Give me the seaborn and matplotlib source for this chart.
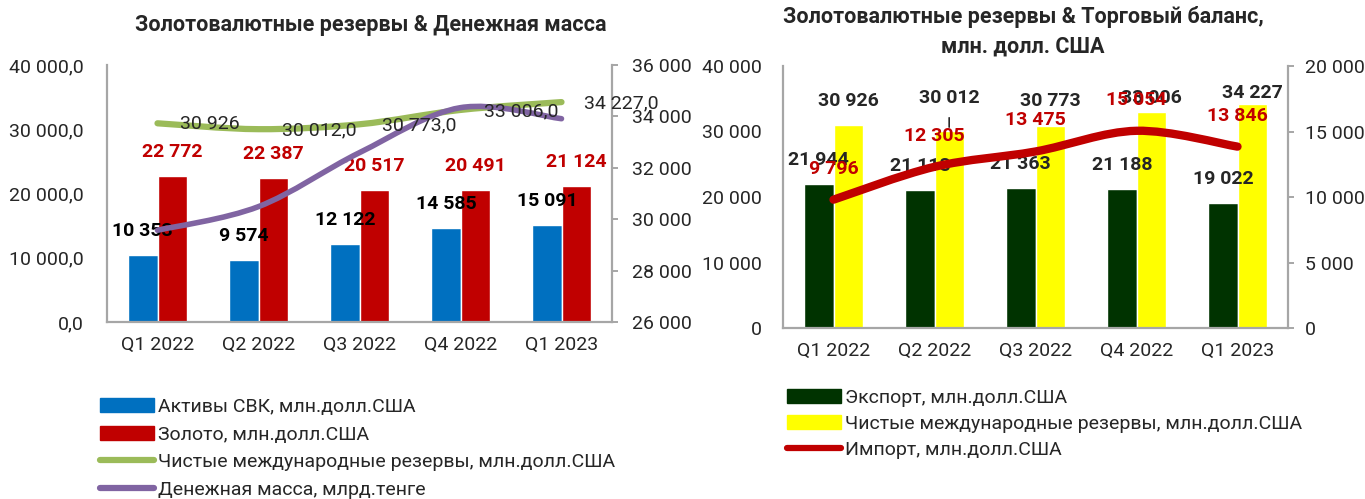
import numpy as np
import pandas as pd
import seaborn as sns
import matplotlib
matplotlib.use("Agg")
import matplotlib.pyplot as plt
from matplotlib.path import Path
from matplotlib.patches import PathPatch, Patch
from matplotlib.lines import Line2D
from matplotlib.ticker import FuncFormatter, MultipleLocator

# данные
quarters = ["Q1 2022", "Q2 2022", "Q3 2022", "Q4 2022", "Q1 2023"]
svk_assets = [10353, 9574, 12122, 14585, 15091]
gold = [22772, 22387, 20517, 20491, 21124]
net_reserves = [30926, 30012, 30773, 33006, 34227]
net_reserves_labels = ["30 926", "30 012,0", "30 773,0", "33 006,0", "34 227,0"]
money_supply = [29570, 30490, 32590, 34340, 33910]
export = [21944, 21118, 21363, 21188, 19022]
imports = [9796, 12305, 13475, 15054, 13846]

title_left = "Золотовалютные резервы & Денежная масса"
title_right = "Золотовалютные резервы & Торговый баланс,\nмлн. долл. США"
lbl_svk = "Активы СВК, млн.долл.США"
lbl_gold = "Золото, млн.долл.США"
lbl_nir = "Чистые международные резервы, млн.долл.США"
lbl_money = "Денежная масса, млрд.тенге"
lbl_export = "Экспорт, млн.долл.США"
lbl_import = "Импорт, млн.долл.США"

BLUE, RED, GREEN, PURPLE = "#0070C0", "#C00000", "#9BBB59", "#8064A2"
DKGREEN, YELLOW = "#003300", "#FFFF00"
GREY = "#A6A6A6"

sns.set_style("white")
plt.rcParams["font.family"] = ["Roboto", "DejaVu Sans"]
FS = 14


def fmt(dec):
    def f(v, pos):
        s = f"{v:,.0f}".replace(",", " ")
        return s + ",0" if dec else s
    return FuncFormatter(f)


def smooth(ax, xs, ys, color, lw):
    # кривая Безье через точки (как сглаживание в Excel)
    pts = np.column_stack([xs, ys]).astype(float)
    n = len(pts)
    verts, codes = [pts[0]], [Path.MOVETO]
    for i in range(n - 1):
        p0 = pts[i - 1] if i > 0 else pts[i]
        p1, p2 = pts[i], pts[i + 1]
        p3 = pts[i + 2] if i + 2 < n else pts[i + 1]
        verts += [p1 + (p2 - p0) / 6, p2 - (p3 - p1) / 6, p2]
        codes += [Path.CURVE4] * 3
    ax.add_patch(PathPatch(Path(verts, codes), fill=False, edgecolor=color,
                           lw=lw, capstyle="round", joinstyle="round", zorder=3))


def style_axes(ax, axr, lpad, rpad):
    for a in (ax, axr):
        for s in a.spines.values():
            s.set_visible(False)
    ax.spines["left"].set_visible(True)
    ax.spines["bottom"].set_visible(True)
    axr.spines["right"].set_visible(True)
    for s in (ax.spines["left"], ax.spines["bottom"], axr.spines["right"]):
        s.set_color(GREY)
        s.set_linewidth(1.6)
    ax.tick_params(axis="y", length=0, pad=lpad, labelsize=FS)
    ax.tick_params(axis="x", length=0, pad=10, labelsize=FS)
    axr.tick_params(axis="y", length=4.5, width=1.4, color=GREY, direction="out",
                    pad=rpad, labelsize=FS)
    ax.set_xlabel("")
    ax.set_ylabel("")
    ax.set_xlim(-0.5, 4.5)


def bar_pair(ax, a, b, na, nb, colors):
    df = pd.DataFrame({"quarter": quarters * 2, "value": a + b,
                       "series": [na] * 5 + [nb] * 5})
    sns.barplot(data=df, x="quarter", y="value", hue="series", palette=colors,
                width=0.58, saturation=1, gap=0, ax=ax, legend=False, zorder=2)


fig = plt.figure(figsize=(13.65, 4.99), dpi=100)

# ---------- левый график ----------
ax1 = fig.add_axes([107 / 1365, 1 - 322 / 499, 505 / 1365, 257 / 499])
bar_pair(ax1, svk_assets, gold, lbl_svk, lbl_gold, [BLUE, RED])
ax1.set_ylim(0, 40000)
ax1.yaxis.set_major_locator(MultipleLocator(10000))
ax1.yaxis.set_major_formatter(fmt(True))
ax1r = ax1.twinx()
ax1r.set_ylim(26000, 36000)
ax1r.yaxis.set_major_locator(MultipleLocator(2000))
ax1r.yaxis.set_major_formatter(fmt(False))
style_axes(ax1, ax1r, 17, 10)

for cont, col in zip(ax1.containers, ["black", RED]):
    for bar in cont:
        v = bar.get_height()
        ax1.annotate(f"{v:,.0f}".replace(",", " "),
                     (bar.get_x() + bar.get_width() / 2, v),
                     xytext=(0, 24), textcoords="offset pixels", ha="center",
                     va="center", fontsize=FS, fontweight="bold", color=col, zorder=5)

xs = np.arange(5)
smooth(ax1, xs, net_reserves, GREEN, 4.5)
smooth(ax1r, xs, money_supply, PURPLE, 4)
for x, v, t in zip(xs, net_reserves, net_reserves_labels):
    ax1r.annotate(t, (x, 26000 + (v / 40000) * 10000), xytext=(23, -1),
                  textcoords="offset pixels", ha="left", va="center", fontsize=FS,
                  zorder=6)
fig.text(371 / 1365, 1 - 25 / 499, title_left, ha="center", va="center",
         fontsize=15.5, fontweight="bold")

h1 = [Patch(color=BLUE), Patch(color=RED),
      Line2D([], [], color=GREEN, lw=4.5, solid_capstyle="round"),
      Line2D([], [], color=PURPLE, lw=4.5, solid_capstyle="round")]
fig.legend(h1, [lbl_svk, lbl_gold, lbl_nir, lbl_money], loc="upper left",
           bbox_to_anchor=(100 / 1365, 1 - 398 / 499), frameon=False, fontsize=FS,
           handlelength=2.8, handletextpad=0.2, labelspacing=0.49,
           borderpad=0, borderaxespad=0)

# ---------- правый график ----------
ax2 = fig.add_axes([783 / 1365, 1 - 328 / 499, 505 / 1365, 262 / 499])
bar_pair(ax2, export, net_reserves, lbl_export, lbl_nir, [DKGREEN, YELLOW])
ax2.set_ylim(0, 40000)
ax2.yaxis.set_major_locator(MultipleLocator(10000))
ax2.yaxis.set_major_formatter(fmt(False))
ax2r = ax2.twinx()
ax2r.set_ylim(0, 20000)
ax2r.yaxis.set_major_locator(MultipleLocator(5000))
ax2r.yaxis.set_major_formatter(fmt(False))
style_axes(ax2, ax2r, 15, 8)

yellow_dy = [24, 33, 25, 14, 11]
for i, bar in enumerate(ax2.containers[0]):
    v = bar.get_height()
    ax2.annotate(f"{v:,.0f}".replace(",", " "),
                 (bar.get_x() + bar.get_width() / 2, v),
                 xytext=(0, 24), textcoords="offset pixels", ha="center",
                 va="center", fontsize=FS, fontweight="bold", zorder=5)
for i, bar in enumerate(ax2.containers[1]):
    v = bar.get_height()
    kw = {}
    if i == 1:
        kw = dict(arrowprops=dict(arrowstyle="-", color="black", lw=1,
                                  shrinkA=5, shrinkB=3))
    ax2.annotate(f"{v:,.0f}".replace(",", " "),
                 (bar.get_x() + bar.get_width() / 2, v),
                 xytext=(0, yellow_dy[i]), textcoords="offset pixels", ha="center",
                 va="center", fontsize=FS, fontweight="bold", zorder=5, **kw)

smooth(ax2r, xs, imports, RED, 6)
for x, v in zip(xs, imports):
    ax2r.annotate(f"{v:,.0f}".replace(",", " "), (x, v), xytext=(0, 31),
                  textcoords="offset pixels", ha="center", va="center",
                  fontsize=FS, fontweight="bold", color=RED, zorder=6)
fig.text(1023 / 1365, 1 - 32 / 499, title_right, ha="center", va="center",
         fontsize=15.5, fontweight="bold", linespacing=1.45)

h2 = [Patch(color=DKGREEN), Patch(color=YELLOW),
      Line2D([], [], color=RED, lw=4.5, solid_capstyle="round")]
fig.legend(h2, [lbl_export, lbl_nir, lbl_import], loc="upper left",
           bbox_to_anchor=(787 / 1365, 1 - 389 / 499), frameon=False, fontsize=FS,
           handlelength=2.8, handletextpad=0.2, labelspacing=0.41,
           borderpad=0, borderaxespad=0)

fig.savefig("out.png", dpi=100)
